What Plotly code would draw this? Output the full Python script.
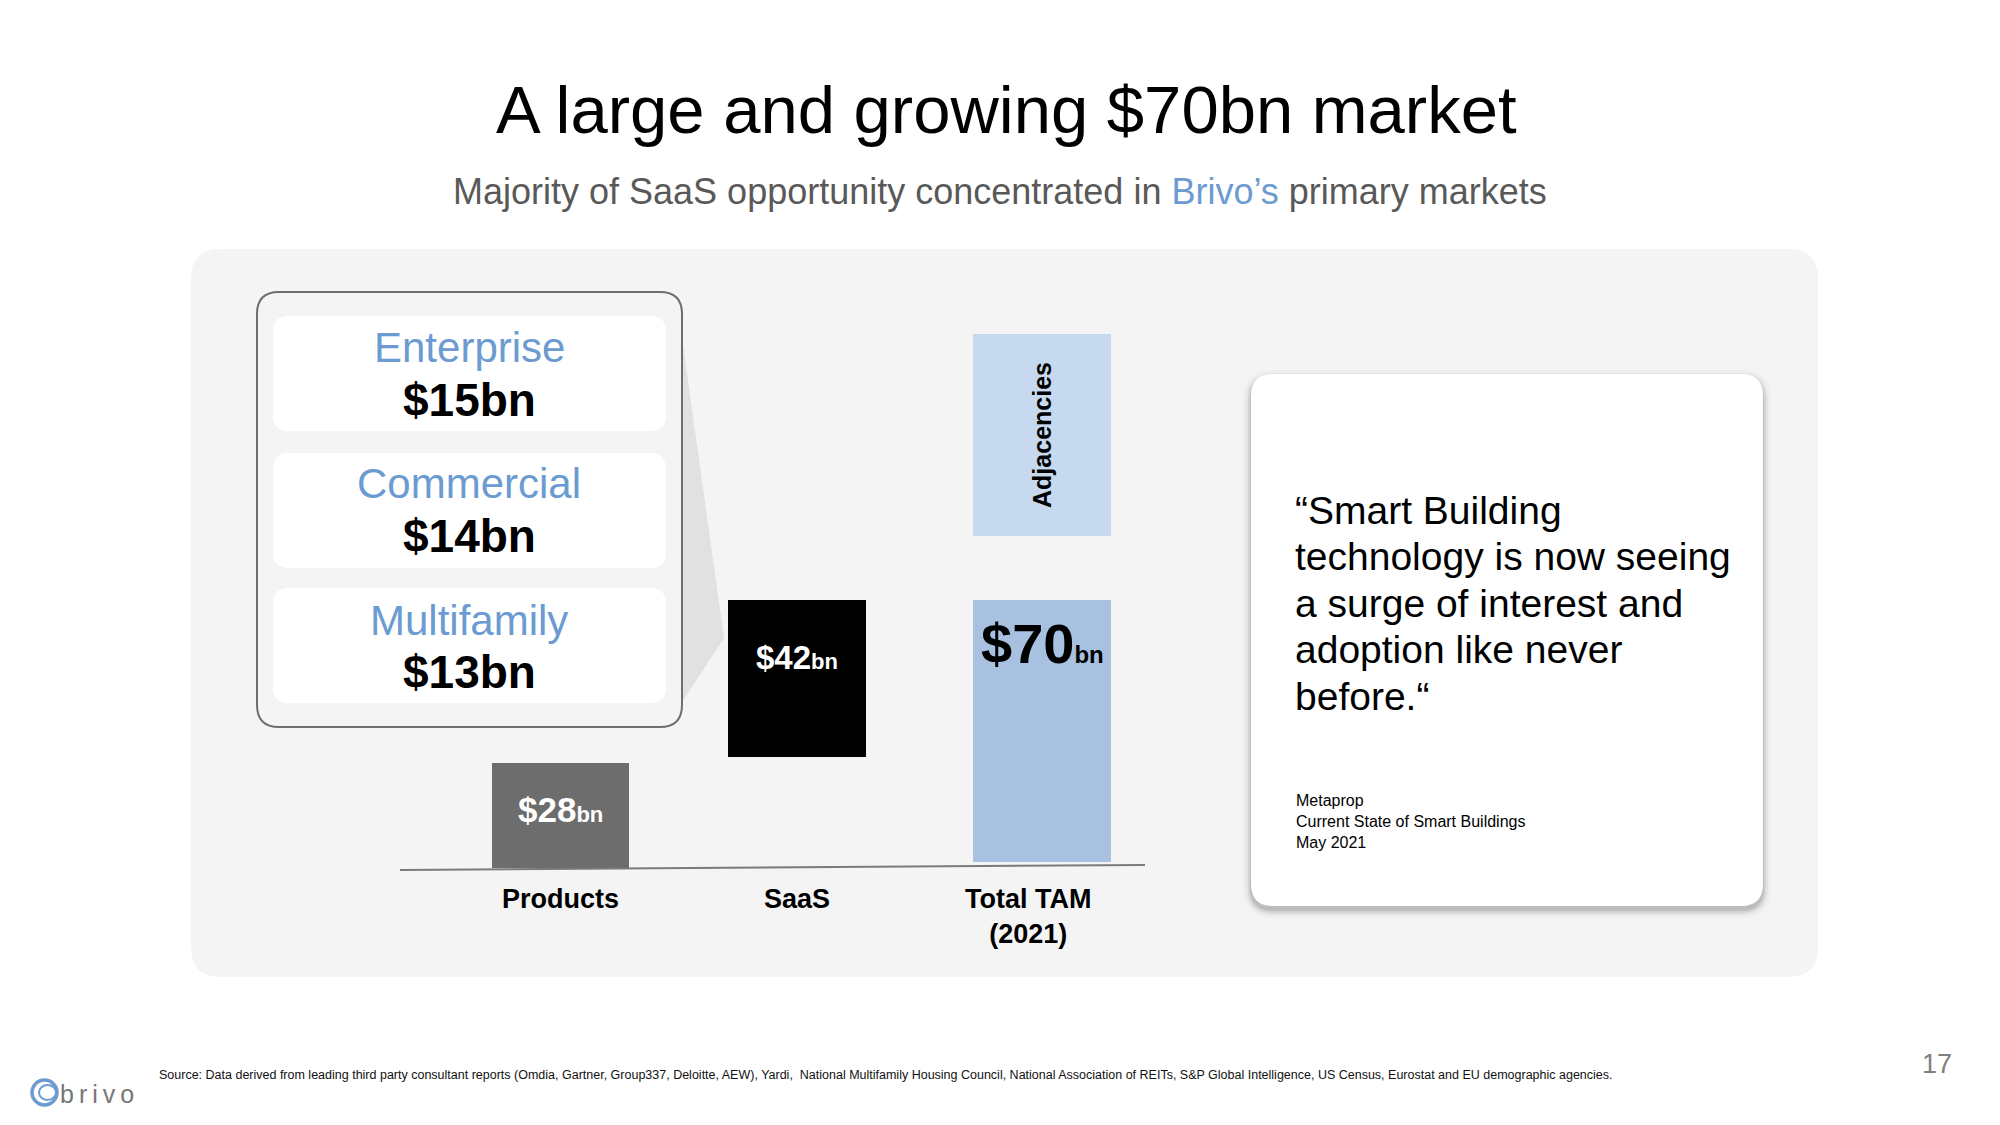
import plotly.graph_objects as go

# ---------------- data ----------------
categories = ["Products", "SaaS", "Total TAM"]
tick_labels = ["<b>Products</b>", "<b>SaaS</b>", "<b>Total TAM<br>(2021)</b>"]
values_bn = [28, 42, 70]               # bar heights ($bn)
value_labels = ["$28", "$42", "$70"]
segment_names = ["Enterprise", "Commercial", "Multifamily"]
segment_values = ["$15bn", "$14bn", "$13bn"]
adjacency_span = [88.5, 142.5]         # visual block above the TAM bar (bn scale)
quote_lines = ["\u201cSmart Building", "technology is now seeing", "a surge of interest and",
               "adoption like never", "before.\u201c"]
source_lines = ["Metaprop", "Current State of Smart Buildings", "May 2021"]

# ---------------- helpers ----------------
W, H = 2000, 1125
FONT = "Liberation Sans, Arial, Helvetica, sans-serif"
BLUE = "#6b9bd1"


def px(x):
    return x / W


def py(y):
    return 1 - y / H


def rrect(x0, y0, x1, y1, r):
    def P(x, y):
        return f"{px(x):.5f},{py(y):.5f}"
    return (f"M {P(x0 + r, y0)} L {P(x1 - r, y0)} Q {P(x1, y0)} {P(x1, y0 + r)} "
            f"L {P(x1, y1 - r)} Q {P(x1, y1)} {P(x1 - r, y1)} "
            f"L {P(x0 + r, y1)} Q {P(x0, y1)} {P(x0, y1 - r)} "
            f"L {P(x0, y0 + r)} Q {P(x0, y0)} {P(x0 + r, y0)} Z")


shapes = []
annotations = []

# grey panel
shapes.append(dict(type="path", path=rrect(191, 249, 1818, 977, 30), xref="paper", yref="paper",
                   fillcolor="#f4f4f4", line=dict(width=0), layer="below"))
# funnel wedge
shapes.append(dict(type="path",
                   path=f"M {px(682)},{py(338)} L {px(724)},{py(638)} L {px(682)},{py(702)} Z",
                   xref="paper", yref="paper", fillcolor="#e1e1e1", line=dict(width=0), layer="below"))
# outlined box
shapes.append(dict(type="path", path=rrect(257, 292, 682, 727, 22), xref="paper", yref="paper",
                   fillcolor="#f4f4f4", line=dict(color="#6e6e6e", width=2), layer="below"))
# white cards
card_tops = [316, 453, 588]
for t in card_tops:
    shapes.append(dict(type="path", path=rrect(273, t, 666, t + 115, 16), xref="paper", yref="paper",
                       fillcolor="white", line=dict(width=0), layer="below"))

# quote card with soft shadow
for grow, op in [(8, 0.025), (5, 0.045), (3, 0.07), (1, 0.1)]:
    shapes.append(dict(type="path", path=rrect(1251 - grow, 374 - grow + 4, 1763 + grow, 906 + grow + 4, 22 + grow),
                       xref="paper", yref="paper", fillcolor=f"rgba(0,0,0,{op})", line=dict(width=0),
                       layer="below"))
shapes.append(dict(type="path", path=rrect(1251, 374, 1763, 906, 22), xref="paper", yref="paper",
                   fillcolor="white", line=dict(width=0), layer="below"))

# baseline (slightly tilted as in the slide)
shapes.append(dict(type="line", xref="paper", yref="paper", x0=px(400), y0=py(870), x1=px(1145), y1=py(865),
                   line=dict(color="#7a7a7a", width=2)))

# logo
shapes.append(dict(type="circle", xref="paper", yref="paper", x0=px(32), y0=py(1105), x1=px(57), y1=py(1080),
                   line=dict(color=BLUE, width=3.5)))
shapes.append(dict(type="circle", xref="paper", yref="paper", x0=px(39), y0=py(1100), x1=px(56), y1=py(1085),
                   line=dict(color=BLUE, width=2)))

# ---------------- figure ----------------
fig = go.Figure()

bar_w = 0.57
gap = 1.5                     # small visual gap above the baseline / previous bar
colors = ["#6d6d6d", "#000000", "#a9c1e1"]
bases = [0, values_bn[0] + gap, gap]
offsets = [-bar_w / 2, -bar_w / 2 - 0.018, -bar_w / 2]
for i in range(3):
    fig.add_trace(go.Bar(x=[categories[i]], y=[values_bn[i]], base=[bases[i]], width=bar_w,
                         offset=offsets[i],
                         marker=dict(color=colors[i], line=dict(width=0)), showlegend=False,
                         hoverinfo="skip"))
fig.add_trace(go.Bar(x=[categories[2]], y=[adjacency_span[1] - adjacency_span[0]], base=[adjacency_span[0]],
                     width=bar_w, offset=-bar_w / 2,
                     marker=dict(color="#c6d9ee", line=dict(width=0)), showlegend=False,
                     text=["<b>Adjacencies</b>"], textposition="inside", insidetextanchor="middle",
                     textangle=-90, textfont=dict(family=FONT, size=25, color="black"), hoverinfo="skip"))

# value labels on bars
label_specs = [
    (0, "white", 35, 22, -46, 0),
    (1, "white", 33, 22, -58, -4),
    (2, "black", 56, 24, -44, 0),
]
for i, col, big, small, shift, xs in label_specs:
    annotations.append(dict(x=categories[i], y=bases[i] + values_bn[i], xref="x", yref="y",
                            text=f"<b>{value_labels[i]}<span style='font-size:{small}px'>bn</span></b>",
                            showarrow=False, yanchor="middle", xanchor="center", yshift=shift, xshift=xs,
                            font=dict(family=FONT, size=big, color=col)))

# category labels under the baseline
label_xshift = [0, -4, -14]
for cat, lab, xs in zip(categories, tick_labels, label_xshift):
    annotations.append(dict(x=cat, y=py(882), xref="x", yref="paper", text=lab, showarrow=False,
                            xshift=xs, xanchor="center", yanchor="top",
                            font=dict(family=FONT, size=27, color="black")))

# segment texts
seg_name_y = [347, 483, 620]
seg_val_y = [400, 536, 672]
for n, v, yn, yv in zip(segment_names, segment_values, seg_name_y, seg_val_y):
    annotations.append(dict(x=px(469), y=py(yn), xref="paper", yref="paper", text=n, showarrow=False,
                            font=dict(family=FONT, size=42, color=BLUE), xanchor="center", yanchor="middle"))
    annotations.append(dict(x=px(469), y=py(yv), xref="paper", yref="paper", text=f"<b>{v}</b>", showarrow=False,
                            font=dict(family=FONT, size=46, color="black"), xanchor="center", yanchor="middle"))

# titles
annotations.append(dict(x=px(1006), y=py(110), xref="paper", yref="paper", text="A large and growing $70bn market",
                        showarrow=False, font=dict(family=FONT, size=67, color="black"),
                        xanchor="center", yanchor="middle"))
annotations.append(dict(x=px(1000), y=py(192), xref="paper", yref="paper",
                        text=f"Majority of SaaS opportunity concentrated in <span style='color:{BLUE}'>Brivo\u2019s</span> primary markets",
                        showarrow=False, font=dict(family=FONT, size=36, color="#595959"),
                        xanchor="center", yanchor="middle"))

# quote
quote_y = [510, 557, 603, 650, 696]
for line, yy in zip(quote_lines, quote_y):
    annotations.append(dict(x=px(1293), y=py(yy), xref="paper", yref="paper", text=line, showarrow=False,
                            font=dict(family=FONT, size=39, color="black"), xanchor="left", yanchor="middle"))
annotations.append(dict(x=px(1294), y=py(821), xref="paper", yref="paper", text="<br>".join(source_lines),
                        showarrow=False, align="left", font=dict(family=FONT, size=16, color="black"),
                        xanchor="left", yanchor="middle"))

# footer
annotations.append(dict(x=px(157), y=py(1075), xref="paper", yref="paper",
                        text="Source: Data derived from leading third party consultant reports (Omdia, Gartner, Group337, "
                             "Deloitte, AEW), Yardi,  National Multifamily Housing Council, National Association of REITs, "
                             "S&amp;P Global Intelligence, US Census, Eurostat and EU demographic agencies.",
                        showarrow=False, font=dict(family=FONT, size=12.5, color="#111111"),
                        xanchor="left", yanchor="middle"))
annotations.append(dict(x=px(1937), y=py(1064), xref="paper", yref="paper", text="17", showarrow=False,
                        font=dict(family=FONT, size=27, color="#7f7f7f"), xanchor="center", yanchor="middle"))
annotations.append(dict(x=px(58), y=py(1094), xref="paper", yref="paper", text="b\u2009r\u2009i\u2009v\u2009o",
                        showarrow=False, font=dict(family=FONT, size=25, color="#777777"),
                        xanchor="left", yanchor="middle"))

unit = 240.75
zero_px = 868
scale = 3.75
fig.update_layout(
    width=W, height=H, margin=dict(l=0, r=0, t=0, b=0),
    paper_bgcolor="white", plot_bgcolor="rgba(0,0,0,0)",
    barmode="overlay", bargap=0,
    font=dict(family=FONT),
    xaxis=dict(domain=[px(400), px(1145)], range=[(400 - 560.6) / unit, (1145 - 560.6) / unit],
               type="category", categoryarray=categories, showticklabels=False,
               showline=False, showgrid=False, zeroline=False, ticks=""),
    yaxis=dict(domain=[py(zero_px), py(300)], range=[0, (zero_px - 300) / scale], visible=False,
               showgrid=False, zeroline=False),
    shapes=shapes, annotations=annotations,
)

fig.write_html("out.html", config={"displayModeBar": False},
               post_script="document.body.style.margin='0px';document.body.style.overflow='hidden';")
